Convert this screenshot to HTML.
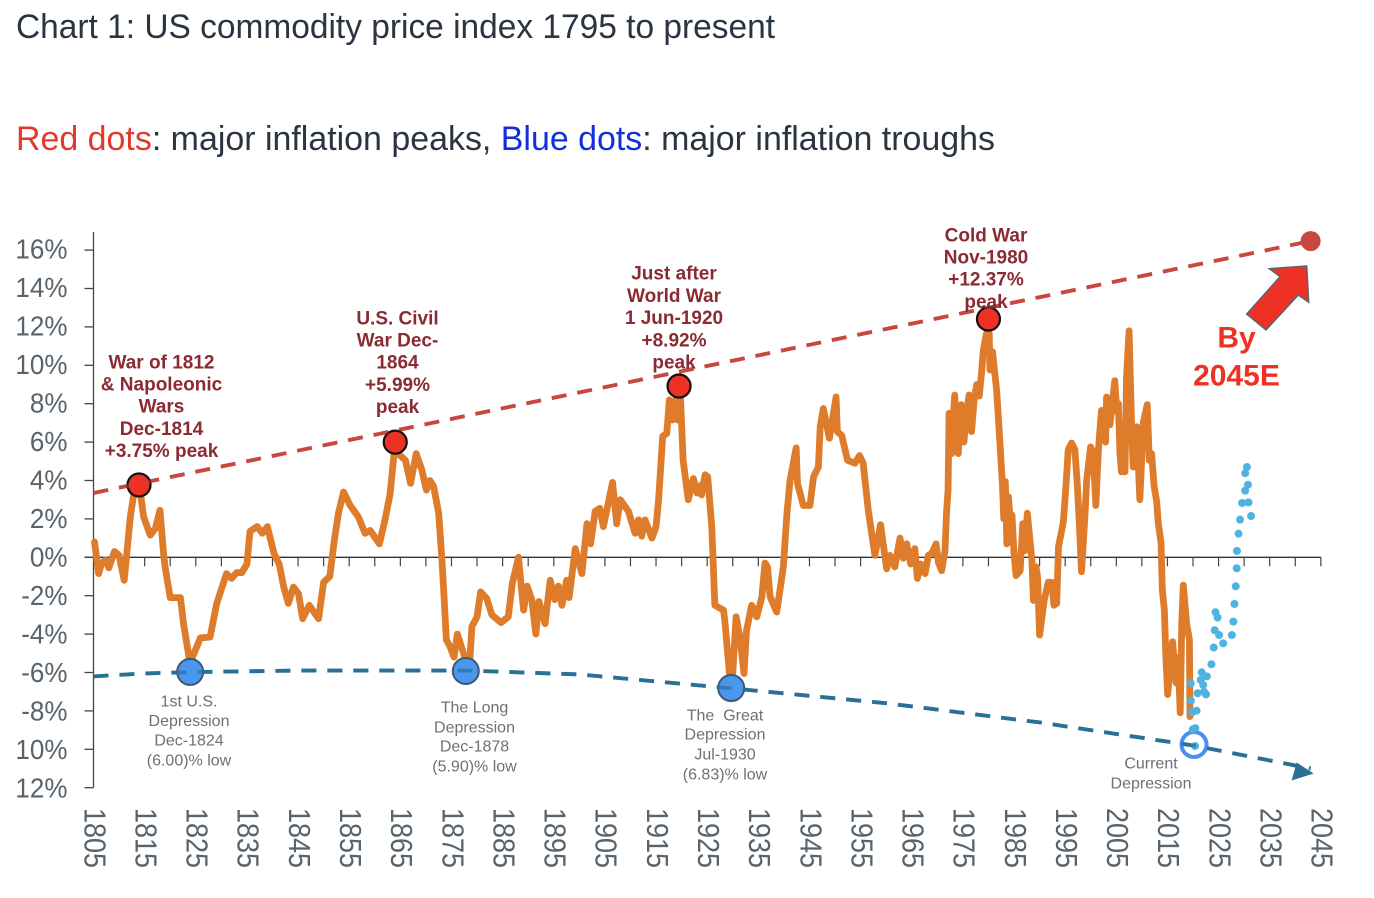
<!DOCTYPE html>
<html lang="en">
<head>
<meta charset="utf-8">
<title>US commodity price index 1795 to present</title>
<style>
html,body{margin:0;padding:0;background:#fff;width:1374px;height:898px;overflow:hidden}
svg{display:block}
text{font-family:"Liberation Sans",Arial,sans-serif}
</style>
</head>
<body>
<svg id="chart" width="1374" height="898" viewBox="0 0 1374 898" xmlns="http://www.w3.org/2000/svg">
  <rect width="1374" height="898" fill="#fff"/>
  <text x="16" y="38" font-size="34" fill="#2b3441" textLength="759" lengthAdjust="spacingAndGlyphs">Chart 1: US commodity price index 1795 to present</text>
  <text x="16" y="150" font-size="34" fill="#2b3441" textLength="979" lengthAdjust="spacingAndGlyphs"><tspan fill="#e3392b">Red dots</tspan>: major inflation peaks, <tspan fill="#1030e0">Blue dots</tspan>: major inflation troughs</text>

  <g id="axes"></g>
  <g id="marks"></g>

  <g font-size="19" font-weight="bold" fill="#8a2a33" text-anchor="middle">
    <text x="161.5" y="368.5">War of 1812</text><text x="161.5" y="390.5">&amp; Napoleonic</text><text x="161.5" y="412.5">Wars</text><text x="161.5" y="435">Dec-1814</text><text x="161.5" y="457">+3.75% peak</text>
  </g>
  <g font-size="19" font-weight="bold" fill="#8a2a33" text-anchor="middle">
    <text x="397.5" y="324.5">U.S. Civil</text><text x="397.5" y="346.5">War Dec-</text><text x="397.5" y="368.5">1864</text><text x="397.5" y="391">+5.99%</text><text x="397.5" y="413">peak</text>
  </g>
  <g font-size="19" font-weight="bold" fill="#8a2a33" text-anchor="middle">
    <text x="674" y="279.5">Just after</text><text x="674" y="302">World War</text><text x="674" y="324">1 Jun-1920</text><text x="674" y="346.5">+8.92%</text><text x="674" y="368.5">peak</text>
  </g>
  <g font-size="19" font-weight="bold" fill="#8a2a33" text-anchor="middle">
    <text x="986" y="241.5">Cold War</text><text x="986" y="263.5">Nov-1980</text><text x="986" y="285.5">+12.37%</text><text x="986" y="308">peak</text>
  </g>

  <g font-size="16" fill="#6a7278" text-anchor="middle">
    <text x="189" y="706.5">1st U.S.</text><text x="189" y="726">Depression</text><text x="189" y="745.5">Dec-1824</text><text x="189" y="765.5">(6.00)% low</text>
  </g>
  <g font-size="16" fill="#6a7278" text-anchor="middle">
    <text x="474.5" y="712.5">The Long</text><text x="474.5" y="732.5">Depression</text><text x="474.5" y="751.5">Dec-1878</text><text x="474.5" y="771.5">(5.90)% low</text>
  </g>
  <g font-size="16" fill="#6a7278" text-anchor="middle">
    <text x="725" y="720.5" xml:space="preserve">The  Great</text><text x="725" y="739.5">Depression</text><text x="725" y="759.5">Jul-1930</text><text x="725" y="779.5">(6.83)% low</text>
  </g>
  <g font-size="16" fill="#6a7278" text-anchor="middle">
    <text x="1151" y="768.5">Current</text><text x="1151" y="788.5">Depression</text>
  </g>

  <polygon points="1306.7,266 1269.3,268.7 1280,276.7 1246.7,314 1266,330 1298.3,295 1308.7,302.3" fill="#ee3124" stroke="#5a6570" stroke-width="1.5"/>
  <g font-size="30" font-weight="bold" fill="#ee3124" text-anchor="middle">
    <text x="1236.5" y="347.5">By</text><text x="1236.5" y="385.5">2045E</text>
  </g>
</svg>

<script>
// ---- Chart data ----
const yTickValues = [16, 14, 12, 10, 8, 6, 4, 2, 0, -2, -4, -6, -8, -10, -12];
const yTickLabels = ['16%', '14%', '12%', '10%', '8%', '6%', '4%', '2%', '0%', '-2%', '-4%', '-6%', '-8%', '10%', '12%'];
const xTickLabels = ['1805', '1815', '1825', '1835', '1845', '1855', '1865', '1875', '1885', '1895', '1905', '1915', '1925', '1935', '1945', '1955', '1965', '1975', '1985', '1995', '2005', '2015', '2025', '2035', '2045'];
const minorTickYears = [1805, 1810, 1815, 1820, 1825, 1830, 1835, 1840, 1845, 1850, 1855, 1860, 1865, 1870, 1875, 1880, 1885, 1890, 1895, 1900, 1905, 1910, 1915, 1920, 1925, 1930, 1935, 1940, 1945, 1950, 1955, 1960, 1965, 1970, 1975, 1980, 1985, 1990, 1995, 2000, 2005, 2010, 2015, 2020, 2025, 2030, 2035, 2040, 2045];

const commodityYears = [1805.2, 1806, 1806.6, 1807.3, 1808, 1809.1, 1810, 1811, 1812.2, 1813.1, 1814, 1814.8, 1816.1, 1817.1, 1818, 1818.7, 1819, 1820, 1822, 1822.6, 1823.8, 1824.2, 1825.9, 1827.8, 1829.1, 1831, 1832, 1833, 1834, 1835, 1835.6, 1837, 1838, 1839, 1840.3, 1841.3, 1842.2, 1843.1, 1844.1, 1845.1, 1845.9, 1847.2, 1849, 1850, 1851.2, 1852.1, 1852.9, 1853.9, 1855.2, 1856.8, 1858.1, 1859.1, 1860.9, 1862, 1863, 1863.9, 1864.6, 1866, 1867, 1868.1, 1869.2, 1870.1, 1870.8, 1871.5, 1872.5, 1873.1, 1873.4, 1874, 1874.7, 1875.5, 1876.15, 1877.65, 1878.6, 1879, 1880, 1880.7, 1881.9, 1882.9, 1884.7, 1886.1, 1886.9, 1888.1, 1889.1, 1889.8, 1890.7, 1891.5, 1892.1, 1893.3, 1894.3, 1895.2, 1895.9, 1896.6, 1897.5, 1898, 1899.2, 1900.5, 1901.5, 1902.2, 1903.1, 1904, 1904.7, 1906.5, 1907.3, 1908, 1909.6, 1910.9, 1911.55, 1912.2, 1912.85, 1914.2, 1915, 1915.5, 1916.3, 1917.1, 1917.6, 1918.2, 1918.8, 1919.2, 1919.8, 1920.3, 1921.3, 1922.3, 1923, 1923.75, 1923.9, 1924.6, 1925.1, 1925.9, 1926.5, 1928.2, 1928.5, 1929.35, 1930, 1930.65, 1931.4, 1932.2, 1932.7, 1933.7, 1934.7, 1935.7, 1936.3, 1936.8, 1937.3, 1938.6, 1939.9, 1940.6, 1941.2, 1942.4, 1942.65, 1943.8, 1945.1, 1945.8, 1946.75, 1947.1, 1947.7, 1948.9, 1950.2, 1950.45, 1951.3, 1952.45, 1953.9, 1954.8, 1955.5, 1956.5, 1957.8, 1958.9, 1960.1, 1960.75, 1961.7, 1962.7, 1963.35, 1964, 1964.8, 1965.6, 1966.1, 1966.75, 1967.6, 1968.25, 1968.9, 1969.75, 1970.2, 1970.85, 1971.5, 1971.8, 1972.1, 1972.3, 1972.8, 1973.1, 1973.4, 1974.1, 1974.4, 1974.7, 1975.2, 1975.7, 1976.2, 1976.7, 1977.2, 1977.7, 1978.2, 1978.65, 1979, 1979.6, 1980.15, 1980.3, 1980.8, 1981.6, 1982.25, 1982.75, 1983, 1983.3, 1983.6, 1983.9, 1984.3, 1984.6, 1985, 1985.4, 1986.2, 1986.7, 1987.15, 1987.6, 1988.5, 1988.8, 1989.3, 1989.6, 1990, 1990.9, 1991.7, 1992.4, 1992.8, 1993.35, 1993.7, 1994.65, 1995.1, 1995.6, 1996.25, 1996.9, 1997.4, 1997.9, 1998.2, 1998.9, 1999.2, 1999.97, 2000.5, 2001, 2001.5, 2002.1, 2002.9, 2003.1, 2003.75, 2004.7, 2005.1, 2005.4, 2005.7, 2006, 2006.35, 2006.7, 2007, 2007.5, 2008, 2008.3, 2009, 2009.6, 2010.3, 2011.05, 2011.45, 2011.9, 2012.4, 2012.9, 2013.2, 2013.75, 2014, 2014.4, 2014.7, 2015.05, 2016, 2016.7, 2017.1, 2017.5, 2017.8, 2018.1, 2018.75, 2019.3, 2019.4];
const commodityValues = [0.8, -0.85, -0.3, -0.15, -0.55, 0.3, 0.1, -1.2, 2.1, 3.7, 3.7, 2.1, 1.15, 1.5, 2.45, 0.2, -0.5, -2.1, -2.1, -3.45, -5.4, -5.3, -4.2, -4.15, -2.4, -0.85, -1.1, -0.8, -0.8, -0.35, 1.35, 1.6, 1.25, 1.6, 0.2, -0.35, -1.55, -2.4, -1.55, -1.9, -3.2, -2.5, -3.2, -1.3, -1, 0.9, 2.3, 3.4, 2.7, 2.1, 1.25, 1.4, 0.7, 1.95, 3.3, 5.75, 5.4, 5.05, 3.85, 5.4, 4.55, 3.5, 4, 3.7, 2.3, 0, -1.35, -4.3, -4.65, -5.2, -4, -5.25, -5.3, -3.6, -3.1, -1.8, -2.15, -3, -3.4, -3.1, -1.35, 0, -2.75, -1.5, -2.2, -4, -2.3, -3.45, -1.2, -2.2, -1.5, -2.5, -1.2, -2.1, 0.45, -0.85, 1.75, 0.7, 2.4, 2.55, 1.6, 3.9, 1.75, 3, 2.4, 1.25, 1.95, 1.1, 1.95, 1, 1.6, 3, 6.3, 6.45, 8.2, 7.15, 8.2, 7.15, 8.2, 5.05, 3, 4.1, 3.35, 3.75, 3.25, 4.3, 4.2, 1.6, -2.5, -2.75, -3.45, -6.05, -6.05, -3.1, -4.15, -6.05, -3.8, -2.5, -3.1, -2.05, -0.3, -0.5, -2.05, -2.85, -0.5, 2.3, 4, 5.7, 3.85, 2.7, 2.7, 4.2, 4.7, 6.8, 7.75, 6.2, 8.35, 6.55, 6.35, 5.05, 4.9, 5.3, 4.9, 2.45, 0.1, 1.7, -0.6, 0.1, -0.5, 1, -0.05, 0.7, -0.35, 0.45, -1.1, -0.35, -0.85, 0.1, 0.2, 0.7, -0.25, -0.7, 0.35, 2.3, 3.5, 7.5, 5.4, 7.2, 8.45, 5.4, 7, 7.95, 6, 7.4, 8.45, 6.55, 8.2, 9, 8.4, 9.6, 10.8, 11.65, 11.65, 9.75, 10.7, 8.7, 5.95, 3.7, 2, 3.95, 0.7, 3.15, 1.8, 2.2, 0.2, -0.95, -0.7, 1.75, 0.35, 2.3, -0.15, -2.25, -0.5, -1, -4.05, -2.25, -1.3, -1.3, -2.5, -2.4, 0.55, 1.85, 3.5, 5.6, 5.95, 5.6, 3.7, 1, -0.75, 2.3, 4, 5.75, 5.4, 2.7, 5.6, 7.65, 6, 8.35, 6.9, 9.2, 7.6, 8, 5.5, 4.45, 5.6, 4.45, 9.4, 11.8, 6.8, 4.7, 6.8, 3, 7.05, 7.95, 5.05, 5.4, 3.7, 2.9, 1.8, 0.75, -1.7, -2.75, -5.2, -7.15, -4.4, -6.55, -5.2, -8.1, -3.45, -1.45, -3.45, -4.3, -8.3];

const projectionYears = [2020.4, 2020.45, 2019.94, 2020.7, 2019.8, 2019.6, 2019.55, 2020.9, 2022.15, 2022.55, 2022, 2021.5, 2021.7, 2022.7, 2023.6, 2024.05, 2024.25, 2025.1, 2025.9, 2024.8, 2024.4, 2027.6, 2027.9, 2028.1, 2028.35, 2028.55, 2028.6, 2028.9, 2029.2, 2031.35, 2029.6, 2030.85, 2030.2, 2030.75, 2030.2, 2030.55];
const projectionValues = [-9.83, -8.9, -8.96, -7.99, -8.07, -7.47, -6.56, -7.08, -7, -7.14, -6.65, -6.39, -5.99, -6.2, -5.57, -4.7, -3.8, -4.05, -4.48, -3.14, -2.86, -4.05, -3.35, -2.43, -1.51, -0.57, 0.33, 1.23, 1.96, 2.15, 2.83, 2.86, 3.47, 3.78, 4.38, 4.7];

const peakTrendYears = [1805, 2043];
const peakTrendValues = [3.35, 16.47];
const troughTrendYears = [1805, 1815, 1824, 1845, 1878, 1900, 1930, 1960, 1990, 2020, 2043];
const troughTrendValues = [-6.2, -6.05, -5.98, -5.9, -5.9, -6.1, -6.83, -7.6, -8.6, -9.8, -11];

const peakYears = [1813.9, 1864, 1919.5, 1980];
const peakValues = [3.77, 6, 8.92, 12.41];
const troughYears = [1823.9, 1877.8, 1929.7];
const troughValues = [-5.97, -5.92, -6.81];
const currentYear = [2020.2];
const currentValue = [-9.75];
const targetYear = [2043];
const targetValue = [16.47];

// ---- Scales ----
const NS = 'http://www.w3.org/2000/svg';
const xScale = function (yr) { return 93.5 + (yr - 1805) * 5.114; };
const yScale = function (v) { return 557.3 - v * 19.2; };
const axes = document.getElementById('axes');
const marks = document.getElementById('marks');

function make(parent, tag, attrs) {
  const el = document.createElementNS(NS, tag);
  for (const k in attrs) el.setAttribute(k, attrs[k]);
  parent.appendChild(el);
  return el;
}
function pathFrom(xs, ys) {
  return xs.map(function (d, i) { return (i ? 'L' : 'M') + xScale(d).toFixed(2) + ' ' + yScale(ys[i]).toFixed(2); }).join(' ');
}

// ---- Axes ----
const yAxisLine = make(axes, 'line', {x1: 93.5, x2: 93.5, y1: 232, y2: yScale(-12), stroke: '#444', 'stroke-width': 1.3});


const xAxisLine = make(axes, 'line', {x1: 84.5, x2: xScale(2045), y1: yScale(0), y2: yScale(0), stroke: '#333', 'stroke-width': 1.3});



yTickValues.forEach(function (v, i) {
  const tick = make(axes, 'line', {x1: 84.5, x2: 93.5, y1: yScale(v), y2: yScale(v), stroke: '#444', 'stroke-width': 1.3});
  
  
  const ly = yScale(v) + 9 - v * 0.05;
  const label = make(axes, 'text', {x: 0, y: 0, 'font-size': 28, fill: '#58636b', 'text-anchor': 'end', transform: 'translate(67.5 ' + ly + ') scale(0.93 1)'});
  label.textContent = yTickLabels[i];
  
  
});

minorTickYears.forEach(function (yr) {
  if (yr === 1805) return;
  const tick = make(axes, 'line', {x1: xScale(yr), x2: xScale(yr), y1: yScale(0), y2: yScale(0) + 9, stroke: '#444', 'stroke-width': 1.2});
  
  
});

xTickLabels.forEach(function (lab) {
  const px = xScale(+lab) - 9.2;
  const label = make(axes, 'text', {x: 0, y: 0, 'font-size': 27, fill: '#58636b', transform: 'translate(' + px + ' 808) rotate(90) scale(1 1.12)'});
  label.textContent = lab;
  
  
});

// ---- Series ----
const commodityLine = make(marks, 'path', {d: pathFrom(commodityYears, commodityValues), fill: 'none', stroke: '#de7c2b', 'stroke-width': 6.8, 'stroke-linejoin': 'round', 'stroke-linecap': 'round'});



const peakLine = make(marks, 'path', {d: pathFrom(peakTrendYears, peakTrendValues), fill: 'none', stroke: '#c8473f', 'stroke-width': 3.8, 'stroke-dasharray': '15 11'});



const troughLine = make(marks, 'path', {d: pathFrom(troughTrendYears, troughTrendValues), fill: 'none', stroke: '#2a7097', 'stroke-width': 3.8, 'stroke-dasharray': '15 11'});



const arrowTipYear = troughTrendYears[troughTrendYears.length - 1];
const arrowTipValue = troughTrendValues[troughTrendValues.length - 1];
const ax = xScale(arrowTipYear) + 3, ay = yScale(arrowTipValue) + 5;
const troughArrow = make(marks, 'polygon', {points: ax + ',' + ay + ' ' + (ax - 17) + ',' + (ay - 11) + ' ' + (ax - 22) + ',' + (ay + 7), fill: '#2a7097'});



peakYears.forEach(function (yr, i) {
  const dot = make(marks, 'circle', {cx: xScale(yr), cy: yScale(peakValues[i]), r: 11.5, fill: '#ee3124', stroke: '#111', 'stroke-width': 2.2});
  
  
});
troughYears.forEach(function (yr, i) {
  const dot = make(marks, 'circle', {cx: xScale(yr), cy: yScale(troughValues[i]), r: 13, fill: '#4a97f0', stroke: '#3c5a70', 'stroke-width': 2});
  
  
});

const ring = make(marks, 'circle', {cx: xScale(currentYear[0]), cy: yScale(currentValue[0]), r: 12.5, fill: 'none', stroke: '#4a90f0', 'stroke-width': 4});



projectionYears.forEach(function (yr, i) {
  const dot = make(marks, 'circle', {cx: xScale(yr), cy: yScale(projectionValues[i]), r: 4, fill: '#4fb3e0'});
  
  
});

const target = make(marks, 'circle', {cx: xScale(targetYear[0]), cy: yScale(targetValue[0]), r: 10, fill: '#c8473f'});



// faint dashes showing through the dots
const peakOverlay = make(marks, 'path', {d: pathFrom(peakTrendYears, peakTrendValues), fill: 'none', stroke: '#c8473f', 'stroke-width': 3.8, 'stroke-dasharray': '15 11', opacity: 0.45});


const troughOverlay = make(marks, 'path', {d: pathFrom(troughTrendYears, troughTrendValues), fill: 'none', stroke: '#2a7097', 'stroke-width': 3.8, 'stroke-dasharray': '15 11', opacity: 0.7});


</script>
</body>
</html>
